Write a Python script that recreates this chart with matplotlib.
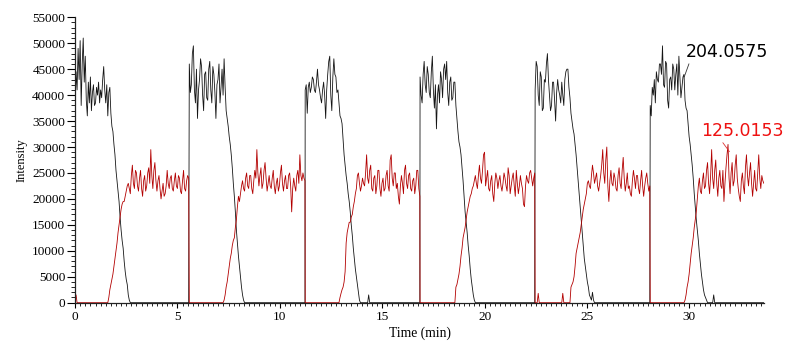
import numpy as np
import matplotlib
matplotlib.use('Agg')
import matplotlib.pyplot as plt
from matplotlib.ticker import MultipleLocator

STEP = 0.05  # min between samples
cycle_starts = [0.0, 5.58, 11.24, 16.85, 22.47, 28.09]
t_end = 33.65

# m/z 204.0575, kcounts, from each cycle start (after the listed values the trace sits at 0)
black_1 = [37.5, 44.5, 41.0, 49.0, 43.0, 50.5, 38.0, 46.0, 51.0, 42.5, 47.5, 39.0, 36.0, 42.5, 38.5, 43.5, 37.0, 40.5, 42.0, 38.0,
           38.5, 41.5, 40.0, 42.5, 38.5, 41.0, 39.5, 43.0, 45.5, 41.0, 38.5, 42.0, 36.0, 40.5, 41.5, 36.5, 34.0, 33.0, 30.5, 28.5,
           25.5, 23.5, 21.5, 19.5, 16.5, 14.0, 12.0, 10.5, 8.0, 6.0, 4.5, 3.5, 1.5, 0.5, 0.0]
black_2 = [46.0, 40.5, 42.0, 48.0, 49.5, 41.0, 38.5, 45.0, 35.5, 41.0, 43.0, 47.0, 45.5, 40.0, 37.0, 44.0, 44.5, 39.5, 39.0, 45.0,
           46.5, 41.0, 38.5, 45.5, 44.0, 40.5, 35.5, 42.0, 43.0, 46.0, 38.5, 41.5, 45.0, 40.0, 47.0, 41.5, 37.0, 35.5, 34.0, 32.0,
           30.5, 28.5, 26.0, 23.0, 20.5, 17.5, 14.0, 11.5, 9.0, 7.0, 5.0, 3.0, 1.5, 0.5, 0.0]
black_3 = [41.0, 42.0, 36.5, 41.5, 42.5, 40.5, 41.5, 43.5, 43.0, 41.0, 40.5, 42.5, 45.0, 42.0, 41.0, 39.5, 38.5, 41.0, 42.5, 40.0,
           35.5, 41.0, 44.0, 46.5, 47.5, 40.0, 37.0, 43.5, 47.0, 44.0, 43.5, 40.5, 41.0, 38.5, 36.0, 35.5, 34.5, 31.5, 28.5, 26.5,
           24.5, 23.0, 21.0, 19.5, 17.5, 15.0, 13.0, 10.5, 8.5, 6.5, 5.0, 3.5, 2.0, 0.5, 0.0, 0.0, 0.0, 0.0, 0.0, 0.0,
           0.0, 0.0, 1.5, 0.0]
black_4 = [43.5, 40.0, 38.5, 44.0, 46.5, 42.0, 40.5, 45.5, 44.0, 40.5, 39.5, 44.5, 47.5, 41.0, 37.5, 42.0, 33.5, 40.0, 42.0, 38.5,
           44.5, 43.0, 39.5, 45.0, 46.0, 43.0, 46.5, 40.5, 38.0, 42.5, 43.5, 39.0, 39.5, 42.5, 42.5, 38.0, 35.5, 33.0, 31.0, 30.0,
           28.5, 26.0, 23.5, 20.5, 17.5, 15.5, 13.5, 11.0, 9.0, 6.5, 4.5, 3.0, 1.5, 0.5, 0.0]
black_5 = [41.0, 46.5, 45.5, 40.0, 38.0, 44.5, 43.5, 37.0, 37.5, 43.0, 42.5, 46.0, 48.0, 43.0, 40.0, 37.0, 38.0, 42.5, 42.5, 39.0,
           35.0, 40.5, 43.0, 41.0, 40.0, 38.5, 42.5, 40.0, 38.0, 43.0, 44.5, 45.0, 45.0, 41.5, 39.5, 36.5, 35.0, 33.5, 32.5, 30.5,
           28.5, 26.0, 23.5, 21.0, 18.5, 16.0, 13.5, 11.0, 8.5, 7.0, 5.5, 4.0, 3.0, 1.5, 1.0, 0.5, 2.0, 0.5, 0.0]
black_6 = [38.0, 36.0, 41.5, 40.0, 43.0, 38.5, 44.5, 43.0, 42.5, 46.0, 46.0, 44.0, 49.5, 42.0, 41.5, 46.5, 46.0, 39.0, 37.5, 43.0,
           43.5, 41.0, 46.0, 45.0, 41.0, 44.0, 46.0, 40.0, 47.5, 43.5, 39.5, 41.5, 43.5, 44.0, 39.0, 37.5, 37.0, 34.5, 32.0, 30.5,
           28.5, 26.5, 24.0, 21.0, 18.5, 16.0, 14.0, 12.0, 9.5, 7.5, 5.5, 4.0, 2.5, 1.5, 1.0, 0.5, 0.0, 0.0, 0.0, 0.0,
           0.0, 0.0, 1.5, 0.0]

# m/z 125.0153, kcounts
red_1 = [0, 1.5, 0, 0, 0, 0, 0, 0, 0, 0, 0, 0, 0, 0, 0, 0, 0, 0, 0, 0,
         0, 0, 0, 0, 0, 0, 0, 0, 0, 0, 0, 0, 0, 1.0, 2.5, 3.5, 4.5, 5.5, 7.0, 8.5,
         10.0, 11.5, 13.5, 15.0, 16.5, 18.0, 19.0, 19.5, 19.5, 20.5, 21.5, 22.5, 23.0, 22.0, 21.0, 24.5, 26.5, 23.0, 22.0, 25.5,
         25.0, 22.5, 21.5, 24.0, 25.5, 22.0, 20.5, 23.5, 24.5, 21.5, 22.5, 25.0, 26.0, 23.0, 29.5, 24.5, 22.0, 25.5, 27.0, 23.5,
         21.5, 23.5, 24.5, 22.0, 20.0, 21.5, 23.0, 20.5, 21.0, 22.5, 25.5, 23.0, 22.0, 24.0, 24.5, 22.0, 21.5, 23.5, 25.0, 22.5,
         22.0, 24.5, 24.0, 21.5, 21.0, 23.5, 25.5, 22.0, 21.5, 23.5, 24.5, 24.0]
red_2 = [0, 0, 0, 0, 0, 0, 0, 0, 0, 0, 0, 0, 0, 0, 0, 0, 0, 0, 0, 0,
         0, 0, 0, 0, 0, 0, 0, 0, 0, 0, 0, 0, 0, 0, 0.5, 1.5, 3.0, 4.0, 5.5, 7.0,
         8.5, 9.5, 11.0, 12.0, 12.5, 14.5, 16.0, 18.5, 20.5, 19.5, 21.0, 22.5, 23.5, 22.0, 21.5, 24.0, 25.0, 22.5, 22.0, 24.5,
         24.5, 22.0, 21.0, 23.5, 25.5, 24.0, 29.5, 25.0, 22.5, 24.5, 26.0, 22.0, 23.0, 25.5, 27.0, 24.0, 21.5, 23.0, 24.5, 22.5,
         22.0, 24.0, 25.5, 22.5, 21.0, 23.0, 24.0, 21.5, 22.5, 25.0, 26.5, 23.0, 21.5, 23.5, 24.5, 22.0, 22.0, 24.5, 25.0, 22.5,
         17.5, 22.0, 24.0, 22.5, 21.5, 24.5, 25.5, 23.0, 28.5, 24.5, 23.5, 25.0, 24.0, 23.5]
red_3 = [0, 0, 0, 0, 0, 0, 0, 0, 0, 0, 0, 0, 0, 0, 0, 0, 0, 0, 0, 0,
         0, 0, 0, 0, 0, 0, 0, 0, 0, 0, 0, 0, 0, 0, 1.0, 1.8, 2.5, 3.0, 4.0, 6.0,
         11.5, 13.5, 14.5, 15.5, 15.5, 16.5, 17.0, 18.5, 19.5, 21.0, 22.0, 24.5, 25.0, 23.0, 21.5, 22.5, 24.0, 23.0, 22.5, 25.0,
         28.5, 24.0, 23.0, 25.5, 26.5, 22.0, 21.5, 24.0, 24.5, 21.0, 22.5, 25.5, 25.5, 22.0, 20.5, 23.0, 24.0, 21.5, 22.0, 24.5,
         25.5, 22.5, 21.5, 27.5, 28.5, 24.0, 22.5, 25.0, 25.0, 22.0, 23.0, 20.5, 19.0, 22.5, 24.5, 23.0, 21.0, 25.5, 26.5, 23.0,
         22.0, 24.5, 25.0, 22.0, 21.5, 23.5, 24.0, 21.0, 22.5, 25.5, 25.5, 22.0, 20.5]
red_4 = [0, 0, 0, 0, 0, 0, 0, 0, 0, 0, 0, 0, 0, 0, 0, 0, 0, 0, 0, 0,
         0, 0, 0, 0, 0, 0, 0, 0, 0, 0, 0, 0, 0, 0, 0, 3.0, 3.5, 4.5, 5.5, 7.0,
         9.0, 10.5, 12.5, 13.5, 14.5, 16.0, 17.5, 18.5, 19.5, 20.5, 21.0, 22.0, 22.5, 23.5, 24.5, 23.0, 22.0, 24.5, 26.5, 24.0,
         23.0, 25.5, 28.5, 29.0, 22.5, 24.0, 25.5, 22.0, 21.5, 23.5, 24.5, 21.0, 19.5, 23.0, 25.0, 24.0, 22.0, 23.5, 24.5, 22.5,
         21.5, 23.0, 25.0, 24.0, 22.5, 21.5, 26.0, 24.5, 21.0, 22.5, 24.0, 25.0, 22.5, 20.5, 25.5, 23.0, 21.0, 22.5, 24.5, 23.0,
         22.0, 19.0, 18.5, 22.5, 24.5, 23.5, 23.0, 25.0, 25.5, 24.0, 22.5, 24.0, 25.0]
red_5 = [0, 0, 0, 1.8, 0, 0, 0, 0, 0, 0, 0, 0, 0, 0, 0, 0, 0, 0, 0, 0,
         0, 0, 0, 0, 0, 0, 0, 1.8, 0, 0, 0, 0, 0, 0, 0, 3.0, 3.5, 4.0, 5.0, 7.0,
         9.5, 10.5, 11.5, 12.5, 13.5, 15.0, 16.5, 18.0, 19.0, 20.0, 21.0, 23.0, 23.5, 22.5, 22.0, 24.5, 26.5, 25.0, 23.0, 24.0,
         25.0, 22.5, 21.5, 23.0, 24.5, 26.5, 29.5, 25.0, 23.0, 27.5, 30.0, 22.5, 19.5, 23.5, 25.5, 23.0, 22.5, 25.0, 24.0, 22.0,
         21.5, 24.5, 26.0, 23.0, 22.0, 25.5, 28.0, 24.0, 21.5, 23.0, 25.0, 22.0, 22.5, 21.0, 20.5, 23.5, 25.5, 24.0, 22.0, 24.5,
         24.5, 22.0, 21.0, 23.5, 25.5, 22.5, 20.5, 22.5, 24.0, 25.0, 23.0, 21.5, 22.5]
red_6 = [0, 0, 0, 0, 0, 0, 0, 0, 0, 0, 0, 0, 0, 0, 0, 0, 0, 0, 0, 0,
         0, 0, 0, 0, 0, 0, 0, 0, 0, 0, 0, 0, 0, 0, 0.5, 1.5, 3.0, 4.0, 5.5, 7.5,
         9.5, 11.0, 12.5, 14.5, 16.0, 17.5, 20.0, 22.5, 24.0, 21.5, 21.0, 23.5, 25.0, 22.0, 22.5, 25.5, 27.0, 23.0, 21.0, 24.5,
         29.5, 24.0, 22.0, 25.5, 27.5, 23.0, 20.5, 24.0, 25.5, 22.5, 22.0, 25.5, 19.5, 23.0, 26.0, 28.5, 30.5, 24.0, 21.0, 25.0,
         27.0, 22.5, 23.5, 26.5, 28.5, 24.0, 22.0, 20.5, 19.5, 23.5, 25.0, 22.5, 21.0, 26.0, 28.5, 24.5, 22.5, 25.0, 27.0, 23.0,
         20.5, 23.0, 25.5, 22.0, 21.5, 25.0, 28.5, 24.0, 22.0, 24.5, 23.5, 23.0]

black_cycles = [black_1, black_2, black_3, black_4, black_5, black_6]
red_cycles = [red_1, red_2, red_3, red_4, red_5, red_6]


def build(cycles):
    """Join the cycles into one trace; missing samples at a cycle end are 0."""
    stops = cycle_starts[1:] + [t_end + 1e-6]
    t_all, y_all = [], []
    for start, stop, vals in zip(cycle_starts, stops, cycles):
        n = int(np.ceil((stop - start) / STEP - 1e-9))
        v = np.zeros(n)
        m = min(n, len(vals))
        v[:m] = vals[:m]
        t_all.append(start + STEP * np.arange(n))
        y_all.append(v * 1000.0)
    return np.concatenate(t_all), np.concatenate(y_all)


t_black, y_black = build(black_cycles)
t_red, y_red = build(red_cycles)

plt.rcParams['font.family'] = ['Liberation Serif', 'DejaVu Serif']

fig = plt.figure(figsize=(7.89, 3.49), dpi=100)
ax = fig.add_axes([0.0951, 0.1327, 0.8733, 0.8178])

ax.plot(t_black, y_black, color='#151515', lw=0.6)
ax.plot(t_red, y_red, color='#b30000', lw=0.6)

ax.set_xlim(0, t_end)
ax.set_ylim(0, 55000)
ax.spines['top'].set_visible(False)
ax.spines['right'].set_visible(False)
for s in ('left', 'bottom'):
    ax.spines[s].set_linewidth(0.9)
    ax.spines[s].set_color('#222222')

ax.xaxis.set_major_locator(MultipleLocator(5))
ax.xaxis.set_minor_locator(MultipleLocator(0.25))
ax.yaxis.set_major_locator(MultipleLocator(5000))
ax.yaxis.set_minor_locator(MultipleLocator(1000))
ax.tick_params(axis='x', which='major', length=3.8, width=0.8, pad=2.0, labelsize=9.5)
ax.tick_params(axis='x', which='minor', length=2.2, width=0.6)
ax.tick_params(axis='y', which='major', length=5.8, width=0.8, pad=1.2, labelsize=9.5)
ax.tick_params(axis='y', which='minor', length=2.9, width=0.6)

ax.set_xlabel('Time (min)', fontsize=9.8, labelpad=2.5)
ax.set_ylabel('Intensity', fontsize=9, labelpad=3)

ax.annotate('204.0575', xy=(29.75, 43500), xytext=(29.83, 48300),
            ha='left', va='center', fontsize=12.5, color='black',
            family=['DejaVu Sans'],
            arrowprops=dict(arrowstyle='-', color='#333333', lw=0.6,
                            shrinkA=0, shrinkB=0, relpos=(0.05, 0.0)))
ax.annotate('125.0153', xy=(31.96, 29100), xytext=(30.57, 33100),
            ha='left', va='center', fontsize=12.5, color='#ee1111',
            family=['DejaVu Sans'],
            arrowprops=dict(arrowstyle='-', color='#dd3333', lw=0.6,
                            shrinkA=0, shrinkB=0, relpos=(0.24, 0.0)))

fig.savefig('out.png', dpi=100)
